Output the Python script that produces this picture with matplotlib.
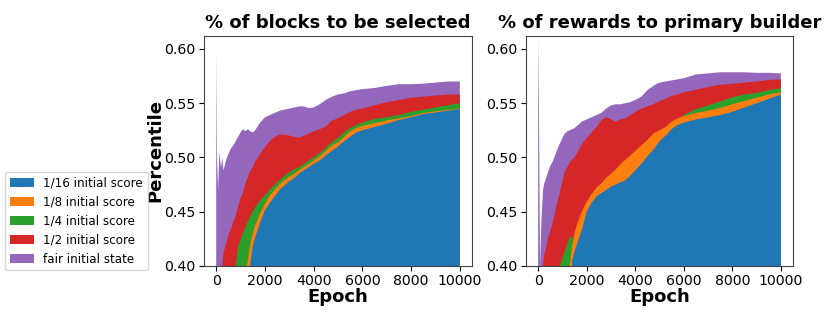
import numpy as np
import matplotlib
matplotlib.use("Agg")
import matplotlib.pyplot as plt

epochs = [0, 30, 80, 130, 200, 250, 300, 400, 500, 600, 700, 800, 900, 1000, 1100, 1200,
          1300, 1400, 1500, 1600, 1800, 2000, 2200, 2400, 2600, 2800, 3000, 3200, 3400,
          3600, 3800, 4000, 4250, 4500, 4750, 5000, 5250, 5500, 5750, 6000, 6500, 7000,
          7500, 8000, 8500, 9000, 9500, 10000]

labels = ["1/16 initial score", "1/8 initial score", "1/4 initial score",
          "1/2 initial score", "fair initial state"]
colors = ["#1f77b4", "#ff7f0e", "#2ca02c", "#d62728", "#9467bd"]

# --- % of blocks to be selected ---
blk_16 = [0.30, 0.30, 0.30, 0.30, 0.30, 0.30, 0.30, 0.30, 0.30, 0.30, 0.30, 0.30, 0.30, 0.30, 0.30, 0.30,
          0.30, 0.402, 0.418, 0.426, 0.44, 0.451, 0.458, 0.464, 0.47, 0.474, 0.478, 0.481, 0.485,
          0.488, 0.491, 0.494, 0.497, 0.502, 0.506, 0.51, 0.515, 0.519, 0.523, 0.525, 0.528, 0.531,
          0.5345, 0.537, 0.54, 0.5415, 0.543, 0.5445]
blk_8 = [0.30, 0.30, 0.30, 0.30, 0.30, 0.30, 0.30, 0.30, 0.30, 0.30, 0.30, 0.30, 0.30, 0.30, 0.30, 0.39,
         0.405, 0.42, 0.43, 0.437, 0.448, 0.457, 0.465, 0.47, 0.475, 0.479, 0.482, 0.485, 0.488,
         0.491, 0.494, 0.497, 0.501, 0.506, 0.511, 0.514, 0.519, 0.524, 0.527, 0.529, 0.5315, 0.534,
         0.536, 0.538, 0.541, 0.5425, 0.5438, 0.5448]
blk_4 = [0.30, 0.30, 0.30, 0.30, 0.30, 0.30, 0.30, 0.30, 0.30, 0.30, 0.36, 0.40, 0.418, 0.424, 0.43, 0.436,
         0.441, 0.446, 0.45, 0.454, 0.46, 0.465, 0.47, 0.475, 0.479, 0.483, 0.486, 0.489, 0.491,
         0.494, 0.497, 0.50, 0.504, 0.509, 0.514, 0.518, 0.523, 0.527, 0.53, 0.532, 0.5355, 0.537,
         0.539, 0.542, 0.544, 0.546, 0.548, 0.55]
blk_2 = [0.30, 0.30, 0.35, 0.37, 0.385, 0.40, 0.412, 0.42, 0.428, 0.434, 0.44, 0.446, 0.455, 0.462, 0.468, 0.476,
         0.482, 0.487, 0.491, 0.496, 0.503, 0.509, 0.515, 0.519, 0.521, 0.521, 0.520, 0.519, 0.518,
         0.520, 0.522, 0.524, 0.526, 0.5285, 0.534, 0.536, 0.539, 0.542, 0.544, 0.545, 0.548, 0.551,
         0.553, 0.555, 0.556, 0.557, 0.558, 0.558]
blk_fair = [0.598, 0.50, 0.47, 0.505, 0.49, 0.50, 0.488, 0.497, 0.503, 0.508, 0.511, 0.515, 0.519, 0.523, 0.526, 0.524,
            0.526, 0.524, 0.523, 0.525, 0.532, 0.537, 0.539, 0.541, 0.543, 0.544, 0.545, 0.546, 0.547,
            0.547, 0.5455, 0.546, 0.549, 0.553, 0.556, 0.558, 0.559, 0.561, 0.562, 0.563, 0.564, 0.566,
            0.5675, 0.5675, 0.568, 0.569, 0.570, 0.570]

# --- % of rewards to primary builder ---
rew_16 = [0.30, 0.30, 0.30, 0.30, 0.30, 0.30, 0.30, 0.30, 0.30, 0.30, 0.30, 0.30, 0.30, 0.30, 0.30, 0.30,
          0.30, 0.405, 0.413, 0.42, 0.433, 0.45, 0.458, 0.464, 0.467, 0.470, 0.473, 0.475, 0.477,
          0.479, 0.483, 0.488, 0.494, 0.501, 0.507, 0.515, 0.52, 0.526, 0.53, 0.532, 0.535, 0.537,
          0.539, 0.542, 0.546, 0.55, 0.554, 0.558]
rew_8 = [0.30, 0.30, 0.30, 0.30, 0.30, 0.30, 0.30, 0.30, 0.30, 0.30, 0.30, 0.30, 0.30, 0.30, 0.30, 0.39,
         0.40, 0.418, 0.43, 0.438, 0.45, 0.459, 0.466, 0.472, 0.476, 0.481, 0.485, 0.489, 0.494,
         0.498, 0.502, 0.506, 0.511, 0.516, 0.522, 0.525, 0.528, 0.533, 0.536, 0.538, 0.541, 0.543,
         0.5455, 0.549, 0.552, 0.555, 0.558, 0.560]
rew_4 = [0.30, 0.30, 0.30, 0.30, 0.30, 0.30, 0.30, 0.30, 0.30, 0.30, 0.30, 0.36, 0.40, 0.407, 0.414, 0.42,
         0.426, 0.427, 0.42, 0.425, 0.445, 0.455, 0.462, 0.468, 0.472, 0.478, 0.482, 0.486, 0.490,
         0.494, 0.499, 0.503, 0.509, 0.513, 0.52, 0.523, 0.527, 0.531, 0.535, 0.539, 0.5445, 0.548,
         0.5515, 0.5555, 0.558, 0.5595, 0.562, 0.564]
rew_2 = [0.30, 0.30, 0.33, 0.38, 0.40, 0.41, 0.414, 0.425, 0.432, 0.44, 0.45, 0.46, 0.468, 0.478, 0.487, 0.491,
         0.495, 0.498, 0.500, 0.504, 0.512, 0.518, 0.523, 0.528, 0.534, 0.537, 0.535, 0.533, 0.535,
         0.536, 0.539, 0.542, 0.545, 0.547, 0.549, 0.552, 0.554, 0.557, 0.558, 0.560, 0.5625, 0.565,
         0.567, 0.568, 0.569, 0.570, 0.5715, 0.572]
rew_fair = [0.612, 0.55, 0.40, 0.44, 0.47, 0.476, 0.479, 0.486, 0.492, 0.496, 0.502, 0.508, 0.513, 0.518, 0.522, 0.524,
            0.525, 0.526, 0.527, 0.529, 0.533, 0.535, 0.537, 0.539, 0.541, 0.545, 0.548, 0.549, 0.549,
            0.550, 0.551, 0.553, 0.556, 0.562, 0.566, 0.569, 0.570, 0.571, 0.572, 0.573, 0.5765, 0.5775,
            0.5785, 0.5785, 0.5785, 0.578, 0.578, 0.5775]

panels = [
    ("% of blocks to be selected", [blk_16, blk_8, blk_4, blk_2, blk_fair]),
    ("% of rewards to primary builder", [rew_16, rew_8, rew_4, rew_2, rew_fair]),
]

fig = plt.figure(figsize=(8.31, 3.18), dpi=100)
ax_pos = [[0.2455, 0.1645, 0.3225, 0.7223], [0.633, 0.1645, 0.3213, 0.7223]]

handles = []
for k, (title, series) in enumerate(panels):
    ax = fig.add_axes(ax_pos[k])
    polys = []
    # draw the highest curve first so the lower ones sit on top
    for i in range(len(series) - 1, -1, -1):
        p = ax.fill_between(epochs, 0, series[i], color=colors[i], linewidth=0, label=labels[i])
        polys.append(p)
    ax.set_xlim(-500, 10500)
    ax.set_ylim(0.40, 0.612)
    ax.set_yticks([0.40, 0.45, 0.50, 0.55, 0.60])
    ax.set_xticks([0, 2000, 4000, 6000, 8000, 10000])
    ax.tick_params(labelsize=10.2, pad=2.5)
    ax.set_title(title, fontsize=13, fontweight="bold")
    ax.set_xlabel("Epoch", fontsize=13, fontweight="bold", labelpad=0)
    if k == 0:
        ax.set_ylabel("Percentile", fontsize=13, fontweight="bold", labelpad=0)
        handles = polys[::-1]
    for s in ax.spines.values():
        s.set_color("#444444")

fig.legend(handles, labels, loc="lower left", bbox_to_anchor=(0.006, 0.15),
           fontsize=8.6, borderaxespad=0)

fig.savefig("out.png", dpi=100)
